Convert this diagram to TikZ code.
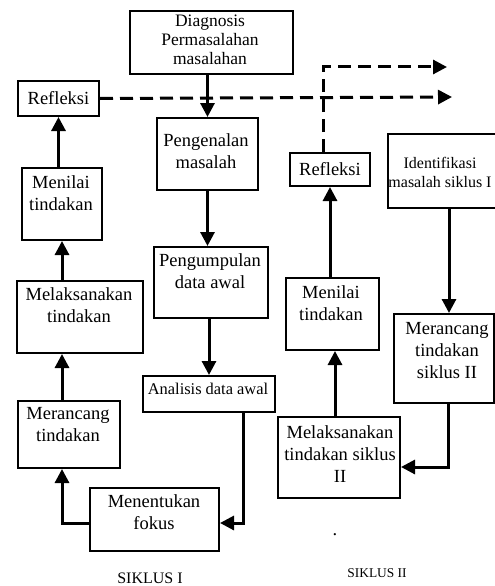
\documentclass[tikz,border=0pt]{standalone}
\usepackage{fontspec}
\setmainfont{Liberation Serif}
\usetikzlibrary{arrows.meta}
\begin{document}
\begin{tikzpicture}[x=1pt,y=-1pt,
  box/.style={draw, line width=2pt, inner sep=0pt, anchor=north west},
  txt/.style={align=center, inner sep=0pt, anchor=north, font=\fontsize{18.5}{22}\selectfont},
  stxt/.style={align=center, inner sep=0pt, anchor=north, font=\fontsize{16.4}{19.5}\selectfont},
  conn/.style={line width=3pt, -{Triangle[width=14pt,length=14pt]}},
  dconn/.style={line width=3pt, dash pattern=on 13pt off 7pt, -{Triangle[width=14pt,length=14pt]}}
]
\useasboundingbox (0,0) rectangle (495,586);
\clip (0,0) rectangle (495,586);
% boxes
\node[box, minimum width=163pt, minimum height=63pt] (diag) at (129,10) {};
\node[box, minimum width=81pt, minimum height=35pt] (refa) at (17,80) {};
\node[box, minimum width=101pt, minimum height=72pt] (peng) at (156,117) {};
\node[box, minimum width=80pt, minimum height=72pt] (nila) at (21,167) {};
\node[box, minimum width=114pt, minimum height=71pt] (pump) at (153,246) {};
\node[box, minimum width=126pt, minimum height=72pt] (laka) at (16,280) {};
\node[box, minimum width=132pt, minimum height=36pt] (anal) at (142,375) {};
\node[box, minimum width=102pt, minimum height=67pt] (ranca) at (17,400) {};
\node[box, minimum width=129pt, minimum height=63pt] (fokus) at (89,487) {};
\node[box, minimum width=80pt, minimum height=33pt] (refb) at (289,152) {};
\node[box, minimum width=116pt, minimum height=74pt] (iden) at (387,133) {};
\node[box, minimum width=93pt, minimum height=72pt] (nilb) at (285,277) {};
\node[box, minimum width=100pt, minimum height=89pt] (rancb) at (393,313) {};
\node[box, minimum width=122pt, minimum height=81pt] (lakb) at (277,416) {};
% texts
\node[stxt, font=\fontsize{17.5}{19}\selectfont] (tdiag) at (210,15) {Diagnosis\\Permasalahan\\masalahan};
\node[txt, anchor=center] (trefa) at (refa.center) {Refleksi};
\node[txt] (tpeng) at (206,133) {Pengenalan\\masalah};
\node[txt] (tnila) at (61,175) {Menilai\\tindakan};
\node[txt] (tpump) at (210,253) {Pengumpulan\\data awal};
\node[txt] (tlaka) at (79,287) {Melaksanakan\\tindakan};
\node[stxt] (tanal) at (208,383) {Analisis data awal};
\node[txt] (tranca) at (68,407) {Merancang\\tindakan};
\node[txt] (tfokus) at (154,494) {Menentukan\\fokus};
\node[txt, anchor=center] (trefb) at (refb.center) {Refleksi};
\node[stxt, font=\fontsize{16}{19.5}\selectfont] (tiden) at (440,157) {Identifikasi\\masalah siklus I};
\node[txt] (tnilb) at (331,285) {Menilai\\tindakan};
\node[txt] (trancb) at (447,322) {Merancang\\tindakan\\siklus II};
\node[txt] (tlakb) at (340,425) {Melaksanakan\\tindakan siklus\\II};
% helper coordinates
\coordinate (a4) at (243,523);
\coordinate (a5) at (62,523);
\coordinate (t1) at (452,97);
\coordinate (c2) at (323,67);
\coordinate (t2) at (447,67);
\coordinate (x449) at (449,0);
\coordinate (a12) at (448,467);
\coordinate (x335) at (335,0);
\coordinate (x330) at (330,0);
% connectors
\draw[conn] (diag.south -| peng.north) -- (peng.north);
\draw[conn] (peng.south) -- (peng.south |- pump.north);
\draw[conn] (anal.north |- pump.south) -- (anal.north);
\draw[conn] (anal.south -| a4) -- (a4) -- (fokus.east |- a4);
\draw[conn] (fokus.west |- a5) -- (a5) -- (ranca.south -| a5);
\draw[conn] (ranca.north -| a5) -- (laka.south -| a5);
\draw[conn] (laka.north -| a5) -- (nila.south -| a5);
\draw[conn] (nila.north -| refa.south) -- (refa.south);
\draw[dconn] (refa.east) -- (t1);
\draw[dconn] (refb.north -| c2) -- (c2) -- (t2);
\draw[conn] (iden.south -| x449) -- (rancb.north -| x449);
\draw[conn] (rancb.south -| a12) -- (a12) -- (lakb.east |- a12);
\draw[conn] (lakb.north -| x335) -- (nilb.south -| x335);
\draw[conn] (nilb.north -| x330) -- (refb.south -| x330);
% labels
\node[inner sep=0pt, font=\fontsize{16}{19}\selectfont] (s1) at (150,578) {SIKLUS I};
\node[inner sep=0pt, font=\fontsize{13.4}{16}\selectfont] (s2) at (377,573) {SIKLUS II};
\node[inner sep=0pt, anchor=base, font=\fontsize{18.5}{22}\selectfont] (dot) at (335,535) {.};
\end{tikzpicture}
\end{document}
